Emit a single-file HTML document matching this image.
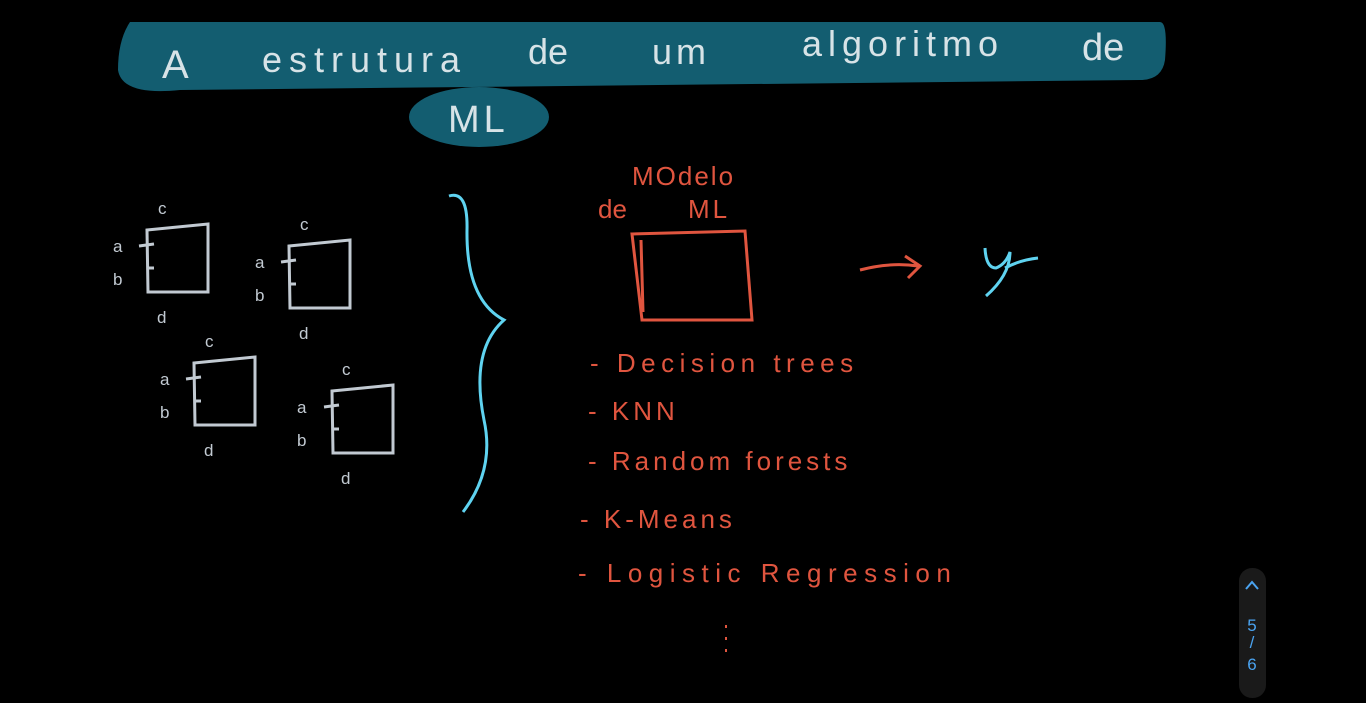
<!DOCTYPE html>
<html><head><meta charset="utf-8"><style>
html,body{margin:0;padding:0;background:#000;width:1366px;height:703px;overflow:hidden}
svg{display:block}
text{font-family:"Liberation Sans",sans-serif}
</style></head><body>
<svg width="1366" height="703" viewBox="0 0 1366 703">
<rect width="1366" height="703" fill="#000"/>
<path d="M130 22 L1160 22 Q1168 22 1165 60 Q1162 80 1140 80 L180 90 Q122 96 118 70 Q118 40 130 22Z" fill="#135d70"/>
<ellipse cx="479" cy="117" rx="70" ry="30" fill="#135d70"/>
<g fill="#d7e3e7" font-size="40">
<text x="162" y="78">A</text>
<text x="262" y="72" letter-spacing="7" font-size="36">estrutura</text>
<text x="528" y="64" font-size="36">de</text>
<text x="652" y="64" letter-spacing="4" font-size="36">um</text>
<text x="802" y="56" letter-spacing="6" font-size="36">algoritmo</text>
<text x="1082" y="60" font-size="38">de</text>
<text x="448" y="132" font-size="38" letter-spacing="4">ML</text>
</g>
<g stroke="#c2cad2" stroke-width="3" fill="none">
<path d="M147 230 L208 224 L208 292 L148 292 Z M139 246 L154 244 M148 268 L154 268"/>
<path d="M289 246 L350 240 L350 308 L290 308 Z M281 262 L296 260 M290 284 L296 284"/>
<path d="M194 363 L255 357 L255 425 L195 425 Z M186 379 L201 377 M195 401 L201 401"/>
<path d="M332 391 L393 385 L393 453 L333 453 Z M324 407 L339 405 M333 429 L339 429"/>
</g>
<g fill="#c2cad2" font-size="17">
<text x="158" y="214">c</text><text x="113" y="252">a</text><text x="113" y="285">b</text><text x="157" y="323">d</text>
<text x="300" y="230">c</text><text x="255" y="268">a</text><text x="255" y="301">b</text><text x="299" y="339">d</text>
<text x="205" y="347">c</text><text x="160" y="385">a</text><text x="160" y="418">b</text><text x="204" y="456">d</text>
<text x="342" y="375">c</text><text x="297" y="413">a</text><text x="297" y="446">b</text><text x="341" y="484">d</text>
</g>
<path d="M449 196 Q468 190 467 230 Q466 300 504 320 Q470 350 484 420 Q495 470 463 512" stroke="#5fd3f0" stroke-width="3" fill="none"/>
<g fill="#e0553f" font-size="26">
<text x="632" y="185" letter-spacing="2">MOdelo</text>
<text x="598" y="218">de</text>
<text x="688" y="218" letter-spacing="3">ML</text>
<text x="590" y="372" letter-spacing="5.5">-  Decision trees</text>
<text x="588" y="420" letter-spacing="4">-  KNN</text>
<text x="588" y="470" letter-spacing="4">-  Random forests</text>
<text x="580" y="528" letter-spacing="4">-  K-Means</text>
<text x="578" y="582" letter-spacing="6.5">-  Logistic Regression</text>
</g>
<path d="M632 234 L745 231 L752 320 L642 320 Z M641 240 L643 312" stroke="#e0553f" stroke-width="3" fill="none"/>
<path d="M860 270 Q890 262 918 266 M905 256 L920 266 L908 278" stroke="#e0553f" stroke-width="3" fill="none"/>
<path d="M726 625 v3 M726 637 v3 M726 649 v3" stroke="#e0553f" stroke-width="2"/>
<path d="M985 248 Q986 268 996 268 Q1006 264 1010 252 Q1010 275 986 296 M1005 268 Q1020 260 1038 258" stroke="#5fd3f0" stroke-width="3" fill="none"/>
<rect x="1239" y="568" width="27" height="130" rx="13" fill="#1a1a1a"/>
<path d="M1246 589 L1252 582 L1258 589" stroke="#4aa3f0" stroke-width="2" fill="none"/>
<g fill="#4aa3f0" font-size="17" text-anchor="middle">
<text x="1252" y="631">5</text><text x="1252" y="648">/</text><text x="1252" y="670">6</text>
</g>
</svg>
</body></html>
